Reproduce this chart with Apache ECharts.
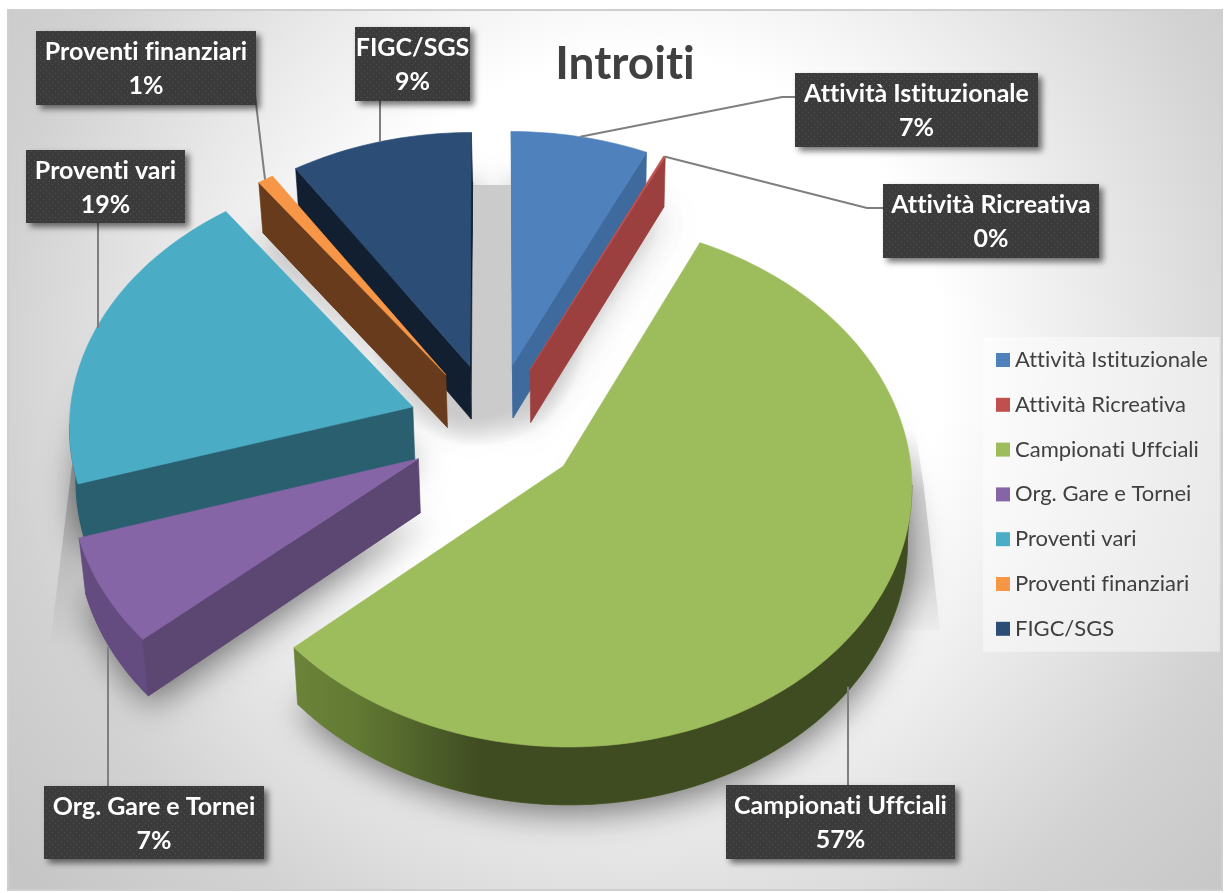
<!DOCTYPE html>
<html><head><meta charset="utf-8">
<style>html,body{margin:0;padding:0;background:#fff}#c{width:1226px;height:893px}</style>
<script src="https://cdn.jsdelivr.net/npm/echarts@6/dist/echarts.min.js"></script>
</head><body><div id="c"></div>
<script>
const categories = ['Attività Istituzionale','Attività Ricreativa','Campionati Uffciali','Org. Gare e Tornei','Proventi vari','Proventi finanziari','FIGC/SGS'];
const values = [6.95, 0.1, 56.45, 6.7, 19.8, 0.8, 9.2];
const percentLabels = ['7%','0%','57%','7%','19%','1%','9%'];
const topColors = ['#4f81bd','#c0504d','#9dbc5c','#8565a6','#4bacc6','#f79646','#2c4d75'];
const innerColors = ['#3e6a9e','#9c3f3f','#5f7a34','#5c4672','#2a5f6f','#673b1b','#111f30'];
const rimColors = ['#3e6a9e','#9c3f3f',null,'#654c80','#2a5f6f','#673b1b','#111f30'];
const drawOrder = [6,0,5,1,4,3,2];
// label box layout [x,y,w,h] and leader elbow
const boxes = [[795,73,243,74],[883,184,216,74],[726,785,229,74],[44,786,220,73],[26,150,159,73],[36,31,220,74],[355,27,115,74]];
const elbows = [[[782,97],[795,97]],[[867,208],[883,208]],[[848,785]],[[108,786]],[[98,223]],[[255,95]],[[380,100]]];

// keep glyphs separate in canvas text (no ligatures)
['fillText','measureText'].forEach(fn=>{const o=CanvasRenderingContext2D.prototype[fn];CanvasRenderingContext2D.prototype[fn]=function(){this.textRendering='optimizeSpeed';return o.apply(this,arguments);};});

const cx=494, cy=427, k=344, q=257, p=0.066, E=0.25, H=53.5;
const total = values.reduce((a,b)=>a+b,0);
const DEG=Math.PI/180;
const starts=[]; let acc=0; values.forEach(v=>{starts.push(acc/total*360); acc+=v;});
function proj(X,Y){const w=1-p*Y; return [cx+k*X/w, cy+q*Y/w, w];}
function bottom(pt){return [pt[0]-(pt[0]-570)*0.013, pt[1]+H/pt[2]];}
function sliceGeom(i){
  const a0=starts[i], a1=a0+values[i]/total*360, m=(a0+a1)/2;
  const ox=E*Math.sin(m*DEG), oy=-E*Math.cos(m*DEG);
  const at=(a,r)=>proj(ox+r*Math.sin(a*DEG), oy-r*Math.cos(a*DEG));
  const apex=at(0,0), rim=[]; const n=Math.max(2,Math.ceil((a1-a0)/1.5));
  for(let j=0;j<=n;j++) rim.push(at(a0+(a1-a0)*j/n,1));
  return {a0,a1,m,apex,rim,mid:at(m,1)};
}
const xy=p=>[p[0],p[1]];
function poly(points,fill,extra){return {type:'polygon',shape:{points:points.map(xy)},style:Object.assign({fill:fill,stroke:fill,lineWidth:0.6},extra||{}),silent:true};}
function renderSlice(i){return function(){
  const g=sliceGeom(i), ch=[];
  const rimMid=g.rim[Math.floor(g.rim.length/2)];
  const wall=(P)=>{
    const ex=P[0]-g.apex[0], ey=P[1]-g.apex[1];
    let nx=-ey, ny=ex;
    const mx=rimMid[0]-g.apex[0], my=rimMid[1]-g.apex[1];
    if(nx*mx+ny*my>0){nx=-nx;ny=-ny;}
    return ny>0;
  };
  const rimFill = rimColors[i] || {type:'linear',x:285,y:0,x2:640,y2:0,global:true,colorStops:[{offset:0,color:'#6c8539'},{offset:.2,color:'#627a33'},{offset:.55,color:'#3f4c22'},{offset:1,color:'#3f4b21'}]};
  let run=[];
  const flush=()=>{ if(run.length>1){ ch.push(poly(run.concat(run.slice().reverse().map(bottom)),rimFill)); } run=[]; };
  for(let j=0;j<g.rim.length-1;j++){
    if(g.rim[j+1][0]<g.rim[j][0]){ if(!run.length) run.push(g.rim[j]); run.push(g.rim[j+1]); } else flush();
  }
  flush();
  [g.rim[0],g.rim[g.rim.length-1]].forEach(P=>{
    if(wall(P)) ch.push(poly([g.apex,P,bottom(P),bottom(g.apex)],innerColors[i]));
  });
  ch.push(poly([g.apex].concat(g.rim),topColors[i]));
  return {type:'group',children:ch};
};}
function renderShadow(params){
  const i=params.dataIndex, g=sliceGeom(i);
  const shadow={shadowBlur:34,shadowColor:'rgba(0,0,0,0.5)',shadowOffsetX:2,shadowOffsetY:8};
  const pts=[g.apex].concat(g.rim);
  return {type:'group',children:[poly(pts.map(bottom),innerColors[i],shadow)]};
}
const tile=document.createElement('canvas'); tile.width=6; tile.height=6;
(function(){const c=tile.getContext('2d');c.fillStyle='#3b3b3b';c.fillRect(0,0,6,6);c.fillStyle='#535353';c.fillRect(1,1,1,1);c.fillRect(4,4,1,1);})();
function renderLabel(params){
  const i=params.dataIndex, b=boxes[i], g=sliceGeom(i);
  const start = (i===2||i===3) ? bottom(g.mid) : g.mid;
  const pts=[[start[0],start[1]]].concat(elbows[i]);
  if(i===2||i===3||i===4||i===6||i===5){ pts[0][0]=elbows[i][0][0]+(i===5?10:0); }
  return {type:'group',children:[
    {type:'polyline',shape:{points:pts},style:{stroke:'#7f7f7f',lineWidth:2,fill:null},silent:true},
    {type:'rect',shape:{x:b[0],y:b[1],width:b[2],height:b[3]},style:{fill:{image:tile,repeat:'repeat'},shadowBlur:6,shadowColor:'rgba(0,0,0,0.55)',shadowOffsetX:4,shadowOffsetY:4},silent:true},
    {type:'text',style:{x:b[0]+b[2]/2,y:b[1]+b[3]/2+1,text:categories[i]+'\n'+percentLabels[i],align:'center',verticalAlign:'middle',fill:'#fff',font:'bold 25px Lato',lineHeight:34},silent:true}
  ]};
}
const series=[{type:'custom',name:'shadow',coordinateSystem:'none',z:1,silent:true,renderItem:renderShadow,data:values.map(v=>[v])}];
drawOrder.forEach((i,o)=>series.push({type:'custom',name:categories[i],coordinateSystem:'none',z:3+o,silent:true,itemStyle:{color:i===1?'#c0504d':topColors[i]},renderItem:renderSlice(i),data:[[values[i]]]}));
series.push({type:'custom',name:'labels',coordinateSystem:'none',z:20,silent:true,renderItem:renderLabel,data:values.map(v=>[v])});
const chart=echarts.init(document.getElementById('c'),null,{renderer:'canvas'});
chart.setOption({
  animation:false,
  backgroundColor:'#fff',
  title:{text:'Introiti',left:620,top:36,textAlign:'center',textStyle:{fontFamily:'Lato',fontWeight:'bold',fontSize:46,color:'#404040'}},
  legend:{data:categories,orient:'vertical',left:983,top:337,padding:[12,12,12,13],icon:'rect',itemWidth:14,itemHeight:14,itemGap:22.8,backgroundColor:'rgba(255,255,255,0.45)',selectedMode:false,textStyle:{fontFamily:'Lato',fontSize:22,color:'#404040',lineHeight:20}},
  graphic:{elements:[
    {type:'rect',z:-10,silent:true,shape:{x:8,y:10,width:1214,height:880},style:{stroke:'#cfcfcf',lineWidth:2,fill:{type:'radial',x:640,y:360,r:800,global:true,colorStops:[{offset:0,color:'#fff'},{offset:.38,color:'#fff'},{offset:.65,color:'#e2e2e2'},{offset:.8,color:'#d2d2d2'},{offset:1,color:'#c6c6c6'}]}}},
    {type:'rect',z:2,silent:true,shape:{x:473,y:185,width:40,height:160},style:{fill:'#cbcbcb'}},
    {type:'rect',z:2,silent:true,shape:{x:370,y:230,width:220,height:220},style:{fill:{type:'radial',x:478,y:340,r:107,global:true,colorStops:[{offset:0,color:'#cbcbcb'},{offset:.72,color:'#cbcbcb'},{offset:1,color:'rgba(203,203,203,0)'}]}}},
    {type:'polygon',z:-5,silent:true,shape:{points:[[72,465],[50,645],[120,645],[120,465]]},style:{fill:{type:'linear',x:0,y:465,x2:0,y2:650,global:true,colorStops:[{offset:0,color:'rgba(0,0,0,0.24)'},{offset:.6,color:'rgba(0,0,0,0.09)'},{offset:1,color:'rgba(0,0,0,0)'}]}}},
    {type:'polygon',z:-5,silent:true,shape:{points:[[915,430],[923,480],[940,630],[870,630],[870,430]]},style:{fill:{type:'linear',x:0,y:430,x2:0,y2:640,global:true,colorStops:[{offset:0,color:'rgba(0,0,0,0)'},{offset:.3,color:'rgba(0,0,0,0.16)'},{offset:.7,color:'rgba(0,0,0,0.12)'},{offset:1,color:'rgba(0,0,0,0)'}]}}}
  ]},
  series:series
});
</script></body></html>
